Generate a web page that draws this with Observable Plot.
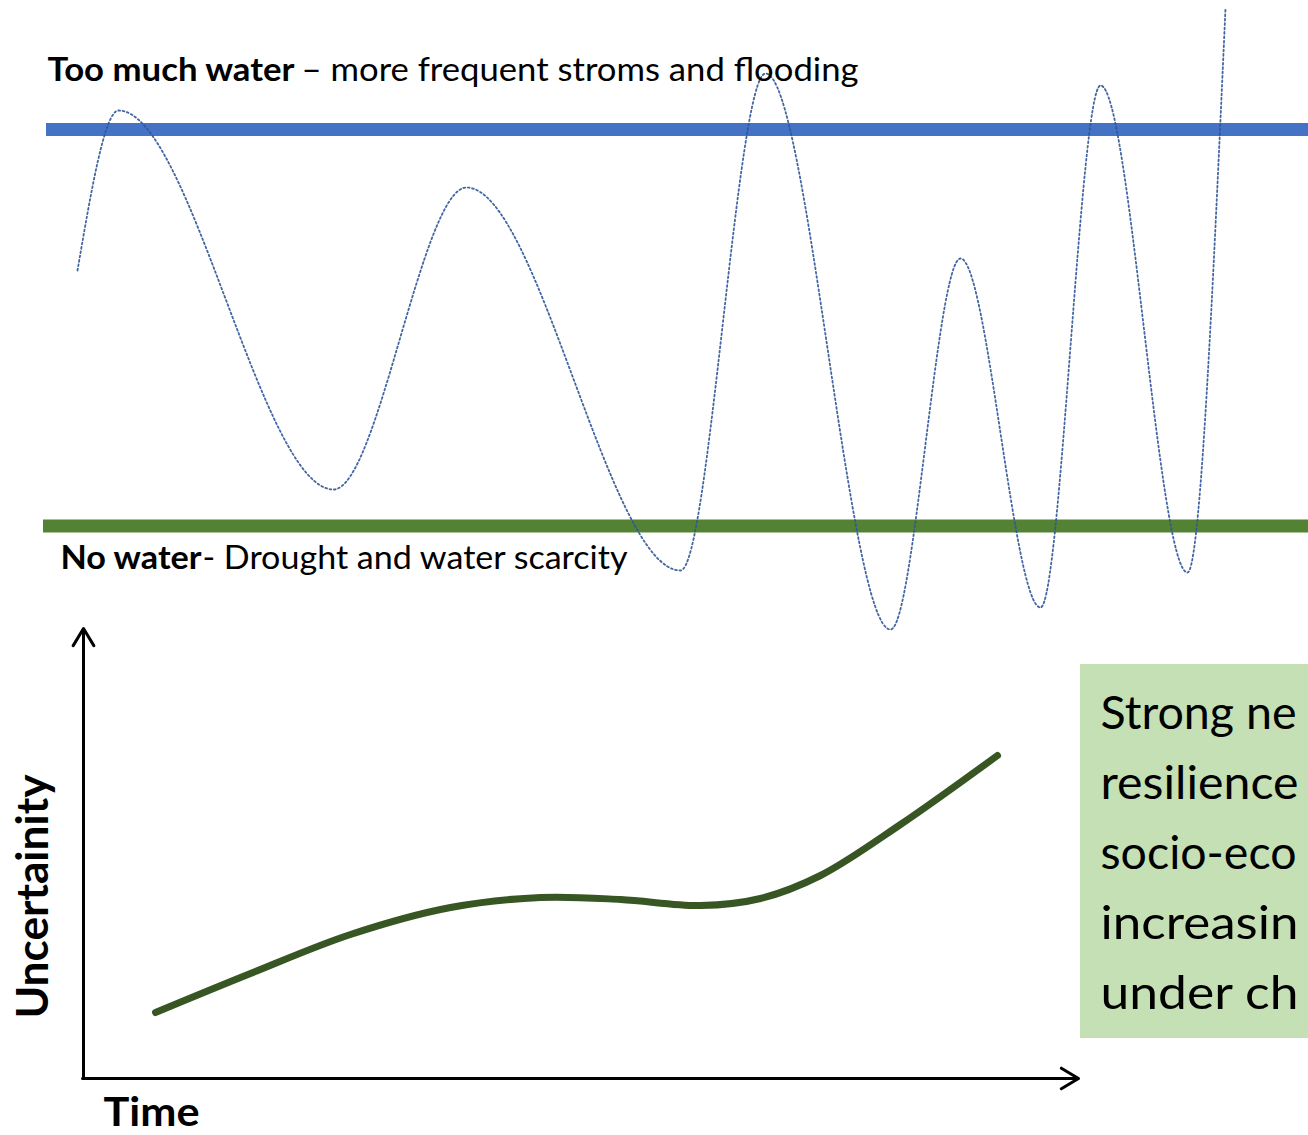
<!DOCTYPE html>
<html><head><meta charset="utf-8">
<script src="https://cdn.jsdelivr.net/npm/d3@7"></script>
<script src="https://cdn.jsdelivr.net/npm/@observablehq/plot@0.6"></script>
<style>html,body{margin:0;padding:0;background:#fff;overflow:hidden}</style>
</head><body><div id="chart"></div>
<script>
// Water-level wave (diagram units = pixels of the original slide): start, extrema, end
const waveX = [77, 118, 333, 466, 680, 765, 890, 960, 1040, 1100, 1187, 1225];
const waveY = [270, 110, 489, 187, 570, 73, 629, 258, 607, 85, 572, 8];

// Threshold bands
const bandLabels = ["Too much water", "No water"];
const bandY = [129, 525.5];
const bandX1 = [46, 43];
const bandX2 = [1308, 1308];
const bandColors = ["#4472C4", "#548235"];

// Uncertainty curve
const uncX = [155, 250, 350, 450, 540, 620, 700, 760, 820, 900, 997];
const uncY = [1012, 973, 934, 907, 897, 899, 905, 898, 875, 824, 755];

// Axes (arrows)
const axisX1 = [83, 82], axisY1 = [1078, 1078], axisX2 = [83, 1078], axisY2 = [628, 1078];

// Labels
const boldLabels = ["Too much water", "No water"];
const boldX = [47, 60], boldY = [80, 568], boldLen = [247, 141];
const normalLabels = ["– more frequent stroms and flooding", "- Drought and water scarcity"];
const normalX = [301, 202], normalY = [80, 568], normalLen = [557, 425];
const boxLines = ["Strong ne", "resilience", "socio-eco", "increasin", "under ch"];
const boxLineY = [728, 798, 868, 938, 1008];
const boxLineLen = [196, 198, 196, 198, 198];
const boxRect = {x1: 1080, x2: 1320, y1: 664, y2: 1038};

const W = 1308, H = 1135;
const idx = a => a.map((_, i) => i);

const wave = idx(waveX).map(i => ({x: waveX[i], y: waveY[i]}));
const unc = idx(uncX).map(i => ({x: uncX[i], y: uncY[i]}));
const bands = idx(bandY).map(i => ({label: bandLabels[i], y: bandY[i], x1: bandX1[i], x2: bandX2[i], c: bandColors[i]}));
const axes = idx(axisX1).map(i => ({x1: axisX1[i], y1: axisY1[i], x2: axisX2[i], y2: axisY2[i]}));
const bolds = idx(boldLabels).map(i => ({t: boldLabels[i], x: boldX[i], y: boldY[i]}));
const normals = idx(normalLabels).map(i => ({t: normalLabels[i], x: normalX[i], y: normalY[i]}));
const box = boxLines.map((t, i) => ({t, x: 1100, y: boxLineY[i]}));

const lengths = new Map([
  ...boldLabels.map((t, i) => [t, boldLen[i]]),
  ...normalLabels.map((t, i) => [t, normalLen[i]]),
  ...boxLines.map((t, i) => [t, boxLineLen[i]]),
  ["Time", 96], ["Uncertainity", 244]
]);

const chart = Plot.plot({
  width: W, height: H,
  margin: 0,
  x: {domain: [0, W], range: [0, W], axis: null},
  y: {domain: [0, H], range: [0, H], axis: null},
  style: {background: "#fff", overflow: "hidden"},
  marks: [
    Plot.rect([boxRect], {x1: "x1", x2: "x2", y1: "y1", y2: "y2", fill: "#C5E0B4"}),
    Plot.ruleY(bands, {y: "y", x1: "x1", x2: "x2", stroke: "c", strokeWidth: 13}),
    Plot.line(wave, {x: "x", y: "y", curve: "monotone-x", stroke: "#2F5597", strokeWidth: 1.8, strokeDasharray: "1.8 2.6", strokeOpacity: 0.9}),
    Plot.arrow(axes, {x1: "x1", y1: "y1", x2: "x2", y2: "y2", stroke: "black", strokeWidth: 3, headLength: 10, headAngle: 62}),
    Plot.line(unc, {x: "x", y: "y", curve: "catmull-rom", stroke: "#375623", strokeWidth: 7}),
    Plot.text(bolds, {x: "x", y: "y", text: "t", textAnchor: "start", lineAnchor: "bottom", fontFamily: "Lato", fontWeight: "bold", fontSize: 32, fill: "black"}),
    Plot.text(normals, {x: "x", y: "y", text: "t", textAnchor: "start", lineAnchor: "bottom", fontFamily: "Lato", fontSize: 32, fill: "black"}),
    Plot.text(box, {x: "x", y: "y", text: "t", textAnchor: "start", lineAnchor: "bottom", fontFamily: "Lato", fontSize: 46, fill: "black"}),
    Plot.text(["Time"], {x: 103, y: 1125, text: d => d, textAnchor: "start", lineAnchor: "bottom", fontFamily: "Lato", fontWeight: "bold", fontSize: 40, fill: "black"}),
    Plot.text(["Uncertainity"], {x: 47, y: 896, text: d => d, rotate: -90, textAnchor: "middle", lineAnchor: "bottom", fontFamily: "Lato", fontWeight: "bold", fontSize: 44, fill: "black"})
  ]
});

d3.select(chart).selectAll("text").each(function() {
  const L = lengths.get(this.textContent);
  if (L) { this.setAttribute("textLength", L); this.setAttribute("lengthAdjust", "spacingAndGlyphs"); }
});

document.getElementById("chart").appendChild(chart);
</script></body></html>
